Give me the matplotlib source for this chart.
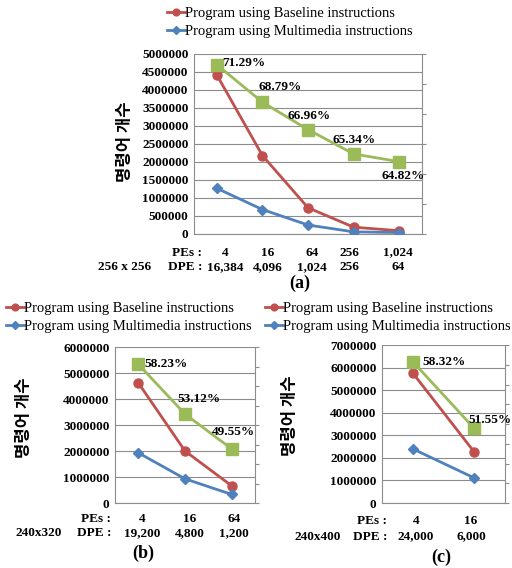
import matplotlib.pyplot as plt
import numpy as np

# panel (a) 256 x 256
pes_a = ["4", "16", "64", "256", "1,024"]
dpe_a = ["16,384", "4,096", "1,024", "256", "64"]
base_a = [4420000, 2180000, 730000, 190000, 90000]
mm_a = [1270000, 680000, 250000, 60000, 40000]
pct_a = [71.29, 68.79, 66.96, 65.34, 64.82]

# panel (b) 240x320
pes_b = ["4", "16", "64"]
dpe_b = ["19,200", "4,800", "1,200"]
base_b = [4620000, 2000000, 660000]
mm_b = [1930000, 930000, 330000]
pct_b = [58.23, 53.12, 49.55]

# panel (c) 240x400
pes_c = ["4", "16"]
dpe_c = ["24,000", "6,000"]
base_c = [5760000, 2260000]
mm_c = [2400000, 1110000]
pct_c = [58.32, 51.55]

RED = "#C0504D"
BLUE = "#4F81BD"
GREEN = "#9BBB59"
GRID = "#8C8C8C"
W, H = 512, 568
SERIF = "Liberation Serif"
KR = ["Noto Sans CJK KR", "DejaVu Sans"]

fig = plt.figure(figsize=(W / 100, H / 100), dpi=100)


def px(x, y):
    return x / W, 1 - y / H


def panel(box, pes, dpe, base, mm, pct, ymax, ystep, plim, pct_off, lab_cx,
          rows_y, res, res_x, lab_x, tag, tag_xy, leg_xy, ylab_xy):
    x0, y0, x1, y1 = box
    ax = fig.add_axes([x0 / W, 1 - y1 / H, (x1 - x0) / W, (y1 - y0) / H])
    n = len(pes)
    x = np.arange(n)
    l1, = ax.plot(x, base, color=RED, marker="o", ms=6.5, lw=2,
                  label="Program using Baseline instructions", zorder=3)
    l2, = ax.plot(x, mm, color=BLUE, marker="D", ms=5.5, lw=2,
                  label="Program using Multimedia instructions", zorder=3)
    ax.set_xlim(-0.5, n - 0.5)
    ax.set_ylim(0, ymax)
    ticks = np.arange(0, ymax + 1, ystep)
    ax.set_yticks(ticks)
    ax.set_yticklabels([str(int(v)) for v in ticks], fontfamily=SERIF,
                       fontweight="bold", fontsize=9.5)
    ax.set_xticks([])
    ax.tick_params(axis="y", length=0, pad=4)
    ax.grid(axis="y", color=GRID, lw=0.8)
    ax.set_axisbelow(True)
    for s in ax.spines.values():
        s.set_color(GRID)
        s.set_linewidth(0.8)
    ax.spines["top"].set_visible(False)

    # percentage series on hidden secondary axis
    ax2 = ax.twinx()
    ax2.plot(x, pct, color=GREEN, marker="s", ms=8, lw=2, zorder=3)
    ax2.set_ylim(*plim)
    ax2.set_yticks(np.arange(plim[0], plim[1] + 0.1, 2))
    ax2.set_yticklabels([])
    ax2.tick_params(axis="y", length=3, color=GRID, direction="out")
    for s in ax2.spines.values():
        s.set_visible(False)
    ax2.set_xlim(-0.5, n - 0.5)
    for i, p in enumerate(pct):
        dx, dy, ha = pct_off[i]
        ax2.annotate(f"{p:.2f}%", (i, p), xytext=(dx, dy),
                     textcoords="offset points", ha=ha, va="center",
                     fontfamily=SERIF, fontweight="bold", fontsize=9.5,
                     annotation_clip=False)

    # x labels
    fs = dict(fontfamily=SERIF, fontweight="bold", fontsize=9.5,
              va="center_baseline")
    ry1, ry2 = rows_y
    for i in range(n):
        fig.text(*px(lab_cx[i], ry1), pes[i], ha="center", **fs)
        fig.text(*px(lab_cx[i], ry2), dpe[i], ha="center", **fs)
    fig.text(*px(lab_x, ry1), "PEs :", ha="right", **fs)
    fig.text(*px(lab_x, ry2), "DPE :", ha="right", **fs)
    fig.text(*px(res_x, ry2), res, ha="center", **fs)
    fig.text(*px(*tag_xy), tag, ha="center", va="center", fontfamily=SERIF,
             fontweight="bold", fontsize=13)

    fig.text(*px(*ylab_xy), "명령어 개수", rotation=90,
             ha="center", va="center", family=KR, fontweight="bold",
             fontsize=12)

    fig.legend(handles=[l1, l2], loc="upper left", bbox_to_anchor=px(*leg_xy),
               frameon=False, prop=dict(family=SERIF, size=10.5),
               handlelength=1.2, handletextpad=0.05, labelspacing=0.3,
               markerscale=0.75, borderpad=0, borderaxespad=0)
    return ax


panel((194, 54, 422, 234), pes_a, dpe_a, base_a, mm_a, pct_a, 5000000, 500000,
      (60, 72), [(4, 1, "left"), (13, 11, "center"), (1, 10, "center"),
                 (0, 10, "center"), (3, -10, "center")],
      [225, 268, 312, 349, 398], (251, 266),
      "256 x 256", 125, 202, "(a)", (300, 283), (167, 7), (125, 142))

panel((115, 347, 255, 503), pes_b, dpe_b, base_b, mm_b, pct_b, 6000000,
      1000000, (44, 60), [(4, 0, "left"), (10, 11, "center"),
                          (1, 12, "center")],
      [142, 190, 234], (517, 532),
      "240x320", 39, 111, "(b)", (143, 553), (6, 302), (24, 418))

panel((382, 345, 505, 503), pes_c, dpe_c, base_c, mm_c, pct_c, 7000000,
      1000000, (44, 60), [(7, 0, "left"), (-4, 6, "left")],
      [416, 471], (520, 535),
      "240x400", 318, 387, "(c)", (441, 557), (265, 302), (290, 416))

fig.savefig("out.png", dpi=100)
